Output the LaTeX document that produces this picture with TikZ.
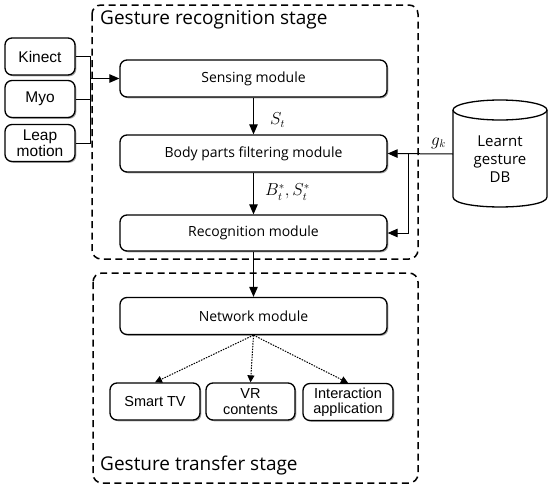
\documentclass[tikz,border=0pt]{standalone}
\usepackage{fontspec}
\setmainfont{Open Sans}
\newfontfamily\arialf{Liberation Sans}
\usetikzlibrary{arrows.meta,shadows}
\begin{document}
\begin{tikzpicture}[x=1pt,y=-1pt,
  box/.style={draw, line width=1.3pt, rounded corners=7pt, fill=white,
    drop shadow={shadow xshift=1.3pt, shadow yshift=-1.3pt, fill=gray!70, opacity=1},
    inner sep=1pt, align=center},
  modbox/.style={box, minimum width=267pt, minimum height=37pt, font=\fontsize{14}{16}\selectfont},
  srcbox/.style={box, minimum width=70pt, minimum height=37pt, font=\arialf\fontsize{15.5}{16.5}\selectfont},
  outbox/.style={box, minimum width=90pt, minimum height=37pt, font=\arialf\fontsize{14.5}{15.5}\selectfont},
  stage/.style={draw, line width=1.5pt, dash pattern=on 7pt off 4.5pt, rounded corners=9pt},
  arr/.style={line width=1pt, -{Triangle[length=10pt,width=8.5pt]}},
  darr/.style={line width=1pt, dash pattern=on 1.5pt off 1.2pt, -{Triangle[length=7pt,width=7pt]}},
  ln/.style={line width=1pt},
  stagetxt/.style={anchor=west, font=\fontsize{19}{21}\selectfont, inner sep=0pt},
  lbl/.style={anchor=west, font=\fontsize{16}{18}\selectfont, inner sep=0pt}]
\useasboundingbox (0,0) rectangle (550,488);
% stage frames
\draw[stage] (92,5) rectangle (418,259);
\draw[stage] (93,273) rectangle (418,483);
\node[stagetxt] (t1) at (100,20) {Gesture recognition stage};
\node[stagetxt] (t2) at (100,466) {Gesture transfer stage};
% sources
\node[srcbox] (kinect) at (40,56.5) {Kinect};
\node[srcbox] (myo) at (40,99) {Myo};
\node[srcbox] (leap) at (40,143) {Leap\\motion};
% modules
\node[modbox] (sensing) at (253.5,78.5) {Sensing module};
\node[modbox] (body) at (253.5,153.5) {Body parts filtering module};
\node[modbox, minimum height=36pt] (recog) at (253.5,233) {Recognition module};
\node[modbox] (net) at (253.5,316) {Network module};
% outputs
\node[outbox] (tv) at (155,401.5) {Smart TV};
\node[outbox, minimum width=89pt] (vr) at (250.5,401.5) {VR\\contents};
\node[outbox] (inter) at (348,402) {Interaction\\application};
% database cylinder
\draw[line width=1.3pt, fill=white] (453,110) -- (453,197) .. controls (453,210.3) and (547,210.3) .. (547,197) -- (547,110);
\draw[line width=1.3pt] (500,110) ellipse [x radius=47pt, y radius=10pt];
\node[font=\fontsize{15}{18}\selectfont, align=center] (db) at (500,159) {Learnt\\gesture\\DB};
\coordinate (dbl) at (453,154);
% connectors
\coordinate (bus) at (90,0);
\draw[ln] (kinect.east) -- (kinect.east -| bus) -- (leap.east -| bus) -- (leap.east);
\draw[ln] (myo.east) -- (myo.east -| bus);
\draw[arr] (sensing.west -| bus) -- (sensing.west);
\draw[arr] (sensing) -- (body);
\draw[arr] (body) -- (recog);
\draw[arr] (recog) -- (net);
\node[lbl] (st) at (270,120) {$S_t$};
\node[lbl] (bs) at (265,192) {$B_t^*, S_t^*$};
\coordinate (gk) at (408,0);
\draw[arr] (dbl) -- (body.east);
\draw[arr] (body.east -| gk) |- (recog.east);
\node[lbl] (gkl) at (431,143) {$g_k$};
\draw[darr] (net.south) -- (tv.north);
\draw[darr] (net.south) -- (vr.north);
\draw[darr] (net.south) -- (inter.north);
\end{tikzpicture}
\end{document}
